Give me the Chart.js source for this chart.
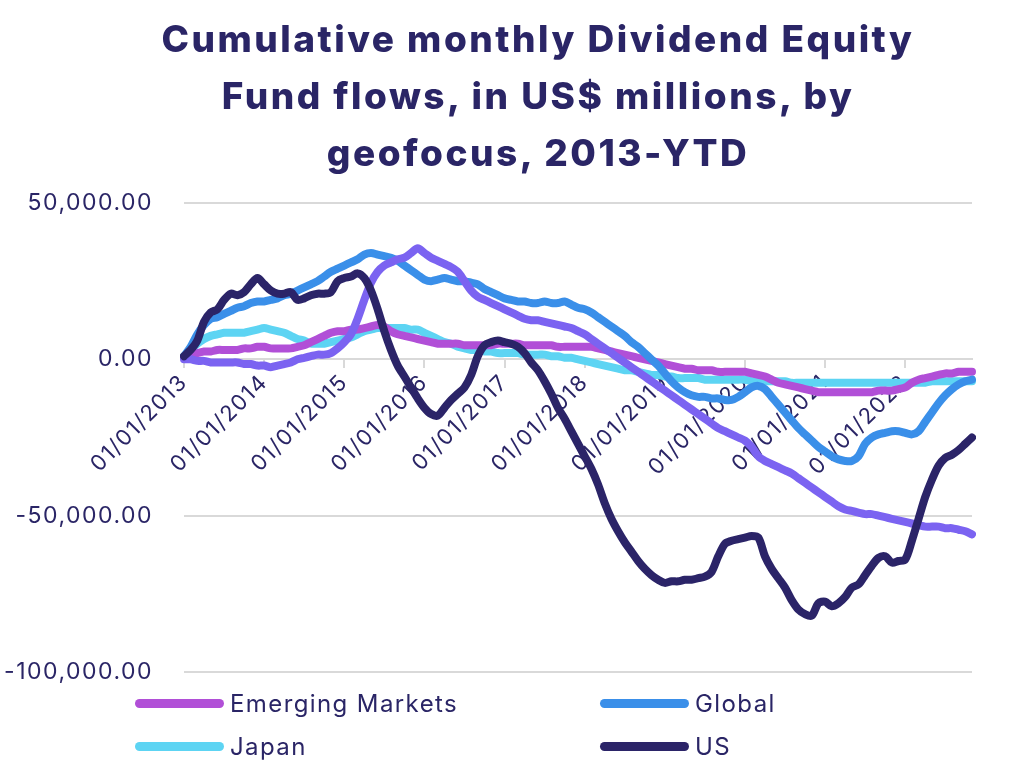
<!DOCTYPE html>
<html>
<head>
<meta charset="utf-8">
<script src="https://cdn.jsdelivr.net/npm/chart.js@4.4.1/dist/chart.umd.min.js"></script>
<style>
  body { margin: 0; background: #fff; }
  #wrap { position: relative; width: 1024px; height: 772px; overflow: hidden; }
  #chart { position: absolute; left: 0; top: 0; }
  #title {
    position: absolute; left: 0; top: 10px; width: 1076px;
    text-align: center; color: #2a2566;
    font-family: Inter, sans-serif; font-weight: 800; font-size: 37px; line-height: 57px;
    letter-spacing: 2.5px;
  }
  .leg { position: absolute; display: flex; align-items: center; color: #2a2566;
    font-family: Inter, sans-serif; font-size: 24px; letter-spacing: 1.4px; }
  .leg span.sw { display: inline-block; width: 89px; height: 9px; border-radius: 5px; margin-right: 6px; }
</style>
</head>
<body>
<div id="wrap">
  <canvas id="chart" width="1024" height="772"></canvas>
  <div id="title">Cumulative monthly Dividend Equity<br>Fund flows, in US$ millions, by<br>geofocus, 2013-YTD</div>
  <div id="legend"></div>
</div>
<script>
// monthly, Jan 2013 .. Nov 2022, values in US$ thousands of millions
const startYear = 2013;
const nMonths = 119;

const emergingK = [0.5, 1.5, 2, 2.5, 2.5, 3, 3, 3, 3, 3.5, 3.5, 4,
  4, 3.5, 3.5, 3.5, 3.5, 4, 4.5, 5.5, 6.5, 7.5, 8.5, 9,
  9, 9.5, 9.5, 10, 10.5, 11, 10.5, 9, 8, 7.5, 7, 6.5,
  6, 5.5, 5, 5, 5, 5, 4.5, 4.5, 4.5, 4.5, 4.5, 5,
  5, 5, 5, 4.5, 4.5, 4.5, 4.5, 4.5, 4, 4, 4, 4,
  4, 4, 3.5, 3, 2.5, 2, 1.5, 1, 0.5, 0, -0.5, -1,
  -1.5, -2, -2.5, -3, -3, -3.5, -3.5, -3.5, -4, -4, -4, -4,
  -4, -4.5, -5, -5.5, -6.5, -7.5, -8, -8.5, -9, -9.5, -10, -10.5,
  -10.5, -10.5, -10.5, -10.5, -10.5, -10.5, -10.5, -10.5, -10, -10, -10, -9.5,
  -9, -7.5, -6.5, -6, -5.5, -5, -4.5, -4.5, -4, -4, -4];

const globalK = [1, 4, 8, 11, 13, 13.5, 14.5, 15.5, 16.5, 17, 18, 18.5,
  18.5, 19, 19.5, 20.5, 21, 22, 23, 24, 25, 26.5, 28, 29,
  30, 31, 32, 33.5, 34, 33.5, 33, 32.5, 31.5, 30, 28.5, 27,
  25.5, 25, 25.5, 26, 25.5, 25, 25, 24.5, 24, 22.5, 21.5, 20.5,
  19.5, 19, 18.5, 18.5, 18, 18, 18.5, 18, 18, 18.5, 17.5, 16.5,
  16, 15, 13.5, 12, 10.5, 9, 7.5, 5.5, 4, 2, 0, -2,
  -4.5, -7, -9, -10.5, -11.5, -12, -12, -12.5, -12.5, -13, -13, -12,
  -10.5, -9, -8.5, -9.5, -12, -14.5, -17, -19.5, -22, -24, -26, -28,
  -29.5, -31, -32, -32.5, -32.5, -31, -27, -25, -24, -23.5, -23, -23,
  -23.5, -24, -23, -20, -17, -14, -11.5, -9.5, -8, -7, -6.5];

const japanK = [1, 3, 5, 6.5, 7.5, 8, 8.5, 8.5, 8.5, 8.5, 9, 9.5,
  10, 9.5, 9, 8.5, 7.5, 6.5, 6, 5, 5, 5, 5.5, 6,
  6.5, 7, 8, 9, 9.5, 10, 10, 10, 10, 10, 9.5, 9.5,
  8.5, 7.5, 6.5, 5.5, 5, 4, 3.5, 3, 3, 2.5, 2.5, 2,
  2, 2, 2, 1.5, 1.5, 1.5, 1.5, 1, 1, 0.5, 0.5, 0,
  -0.5, -1, -1.5, -2, -2.5, -3, -3.5, -3.5, -4, -4.5, -5, -5,
  -5.5, -5.5, -6, -6, -6, -6, -6.5, -6.5, -6.5, -6.5, -6.5, -6.5,
  -6.5, -7, -7, -7, -7, -7, -7, -7.5, -7.5, -7.5, -7.5, -7.5,
  -7.5, -7.5, -7.5, -7.5, -7.5, -7.5, -7.5, -7.5, -7.5, -7.5, -7.5, -7.5,
  -7.5, -7.5, -7.5, -7.5, -7, -7, -7, -7, -7, -7, -7];

const usK = [1, 3, 6, 12, 15, 16, 19, 21, 20.5, 21.5, 24, 26,
  24, 22, 21, 21, 21.5, 19, 19.5, 20.5, 21, 21, 21.5, 25,
  26, 26.5, 27.5, 26, 22, 16, 9, 3, -2, -5.5, -9, -12.5,
  -15.5, -17.5, -18, -15.5, -13, -11, -9, -5, 1, 4.5, 5.5, 6,
  5.5, 5, 4, 2, -1, -3.5, -7, -11, -15.5, -19, -23, -27,
  -31, -35, -40, -46, -51, -55, -58.5, -61.5, -64.5, -67, -69, -70.5,
  -71.5, -71, -71, -70.5, -70.5, -70, -69.5, -68, -63, -59, -58, -57.5,
  -57, -56.5, -57, -63, -67, -70, -73, -77, -80, -81.5, -82, -78,
  -77.5, -79, -78, -76, -73, -72, -69, -66, -63.5, -63, -65, -64.5,
  -64, -58, -51, -44, -38.5, -34, -31.5, -30.5, -29, -27, -25];

// fifth line drawn in the source without a legend entry
const europeK = [0, 0, -0.5, -0.5, -1, -1, -1, -1, -1, -1.5, -1.5, -2,
  -2, -2.5, -2, -1.5, -1, 0, 0.5, 1, 1.5, 1.5, 2, 3.5,
  5.5, 8, 13, 19, 24.5, 28, 30, 31, 32, 32.5, 34, 35.5,
  34, 32.5, 31.5, 30.5, 29.5, 28, 25, 22, 20, 19, 18, 17,
  16, 15, 14, 13, 12.5, 12.5, 12, 11.5, 11, 10.5, 10, 9,
  8, 6.5, 5, 3.5, 2, 0.5, -1, -2.5, -4, -5.5, -7, -8.5,
  -10, -11.5, -13, -14.5, -16, -17.5, -19, -20.5, -22, -23, -24, -25,
  -26, -28, -31, -32.5, -33.5, -34.5, -35.5, -36.5, -38, -39.5, -41, -42.5,
  -44, -45.5, -47, -48, -48.5, -49, -49.5, -49.5, -50, -50.5, -51, -51.5,
  -52, -52.5, -53, -53.5, -53.5, -53.5, -54, -54, -54.5, -55, -56];

const yTicks = [50000, 0, -50000, -100000];

const labels = [];
for (let i = 0; i < nMonths; i++) {
  const m = (i % 12) + 1;
  const y = startYear + Math.floor(i / 12);
  labels.push("01/" + (m < 10 ? "0" + m : m) + "/" + y);
}

const toM = arr => arr.map(v => v * 1000);

const series = [
  { label: "US", data: usK, color: "#2b2468", legend: true },
  { label: "Europe", data: europeK, color: "#7b63f1", legend: false },
  { label: "Global", data: globalK, color: "#3a8fe9", legend: true },
  { label: "Emerging Markets", data: emergingK, color: "#b14fd7", legend: true },
  { label: "Japan", data: japanK, color: "#5dd4f3", legend: true }
];

const ink = "#2a2566";
const gridCol = "#d9d9d9";

// the source font is wider than Inter, so space the canvas text out a little
const spacing = {
  id: "spacing",
  beforeLayout(chart) { chart.ctx.letterSpacing = "1.5px"; },
  beforeDraw(chart) { chart.ctx.letterSpacing = "1.5px"; }
};

new Chart("chart", {
  type: "line",
  plugins: [spacing],
  data: {
    labels: labels,
    datasets: series.map(s => ({
      label: s.label,
      data: toM(s.data),
      borderColor: s.color,
      backgroundColor: s.color,
      borderWidth: 8,
      pointRadius: 0,
      tension: 0.3,
      borderCapStyle: "round",
      borderJoinStyle: "round"
    }))
  },
  options: {
    responsive: false,
    animation: false,
    layout: { padding: { top: 203, bottom: 100, right: 52, left: 0 } },
    plugins: { legend: { display: false }, tooltip: { enabled: false } },
    scales: {
      x: {
        position: { y: 0 },
        border: { display: true, color: gridCol, width: 2 },
        grid: {
          drawOnChartArea: false,
          tickLength: 8,
          lineWidth: 2,
          color: ctx => (ctx.index % 12 === 0 ? gridCol : "rgba(0,0,0,0)")
        },
        ticks: {
          autoSkip: false,
          minRotation: 45,
          maxRotation: 45,
          padding: 2,
          color: ink,
          font: { family: "Inter", size: 22 },
          callback: (v, i) => (i % 12 === 0 ? labels[i] : "")
        }
      },
      y: {
        min: -100000,
        max: 50000,
        afterFit: s => { s.width = 184; },
        afterBuildTicks: s => { s.ticks = yTicks.map(v => ({ value: v })); },
        border: { display: false },
        grid: { color: gridCol, lineWidth: 2, drawTicks: false },
        ticks: {
          padding: 31,
          color: ink,
          font: { family: "Inter", size: 23 },
          callback: v => v.toLocaleString("en-US", { minimumFractionDigits: 2, maximumFractionDigits: 2 })
        }
      }
    }
  }
});

// two-column legend as in the source
const legendPos = {
  "Emerging Markets": [135, 703],
  "Global": [600, 703],
  "Japan": [135, 746],
  "US": [600, 746]
};
const legendEl = document.getElementById("legend");
series.filter(s => s.legend).forEach(s => {
  const p = legendPos[s.label];
  const d = document.createElement("div");
  d.className = "leg";
  d.style.left = p[0] + "px";
  d.style.top = (p[1] - 15) + "px";
  d.style.height = "30px";
  d.innerHTML = '<span class="sw" style="background:' + s.color + '"></span>' + s.label;
  legendEl.appendChild(d);
});
</script>
</body>
</html>
